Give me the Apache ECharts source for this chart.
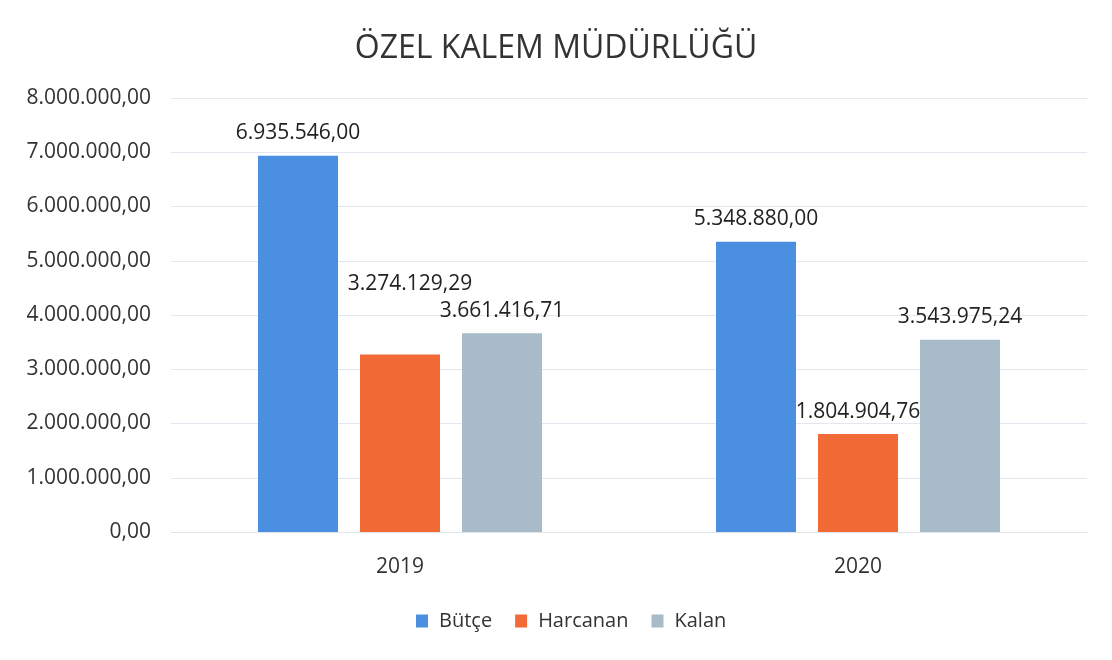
<!DOCTYPE html>
<html>
<head>
<meta charset="utf-8">
<title>ÖZEL KALEM MÜDÜRLÜĞÜ</title>
<script src="https://cdn.jsdelivr.net/npm/echarts@6/dist/echarts.min.js"></script>
<style>
  html, body { margin: 0; padding: 0; background: #fff; }
  #chart { width: 1112px; height: 660px; }
</style>
</head>
<body>
<div id="chart"></div>
<script>
// veriler
var years = ['2019', '2020']
var butce = [6935546.00, 5348880.00]
var harcanan = [3274129.29, 1804904.76]
var kalan = [3661416.71, 3543975.24]
var seriesNames = ['Bütçe', 'Harcanan', 'Kalan']
var yMin = 0
var yMax = 8000000
var yStep = 1000000

// Türkçe sayı biçimi: 1.234.567,89
function formatTR(n) {
  var fixed = Number(n).toFixed(2)
  var parts = fixed.split('.')
  var intPart = parts[0].replace(/\B(?=(\d{3})+(?!\d))/g, '.')
  return intPart + ',' + parts[1]
}

var font = 'Open Sans'
var labelBase = {
  show: true,
  position: 'top',
  distance: 12,
  color: '#222',
  fontSize: 21,
  fontFamily: font,
  formatter: function (p) { return formatTR(p.value) }
}

// 2019 Harcanan etiketi biraz yukarıda duruyor
var harcananData = harcanan.map(function (v, i) {
  if (i === 0) return { value: v, label: { offset: [10, -48] } }
  return v
})

var chart = echarts.init(document.getElementById('chart'))
chart.setOption({
  animation: false,
  title: {
    text: 'ÖZEL KALEM MÜDÜRLÜĞÜ',
    left: 'center',
    top: 28,
    textStyle: { fontFamily: font, fontSize: 32, fontWeight: 'normal', color: '#333' }
  },
  legend: {
    bottom: 24,
    left: 411,
    itemWidth: 12,
    itemHeight: 13,
    itemGap: 23,
    icon: 'rect',
    textStyle: { fontFamily: font, fontSize: 20, color: '#333', padding: [0, 0, 0, 6] },
    data: seriesNames
  },
  grid: { left: 171, right: 25, top: 98, bottom: 128 },
  xAxis: {
    type: 'category',
    data: years,
    axisLine: { show: true, lineStyle: { color: '#dfe4ec' } },
    axisTick: { show: false },
    axisLabel: { fontFamily: font, fontSize: 21, color: '#333', margin: 25 }
  },
  yAxis: {
    type: 'value',
    min: yMin,
    max: yMax,
    interval: yStep,
    axisLine: { show: false },
    axisTick: { show: false },
    splitLine: { lineStyle: { color: '#e3e8f0' } },
    axisLabel: {
      fontFamily: font, fontSize: 21, color: '#333', margin: 20,
      formatter: function (v) { return formatTR(v) }
    }
  },
  series: [
    { name: seriesNames[0], type: 'bar', data: butce, barWidth: 80, barGap: '27.5%',
      itemStyle: { color: '#4a8fe0' }, label: labelBase },
    { name: seriesNames[1], type: 'bar', data: harcananData, barWidth: 80, barGap: '27.5%',
      itemStyle: { color: '#f26a36' }, label: labelBase },
    { name: seriesNames[2], type: 'bar', data: kalan, barWidth: 80, barGap: '27.5%',
      itemStyle: { color: '#a8bbc8' }, label: labelBase }
  ]
})
window.addEventListener('resize', function () { chart.resize() })
</script>
</body>
</html>
